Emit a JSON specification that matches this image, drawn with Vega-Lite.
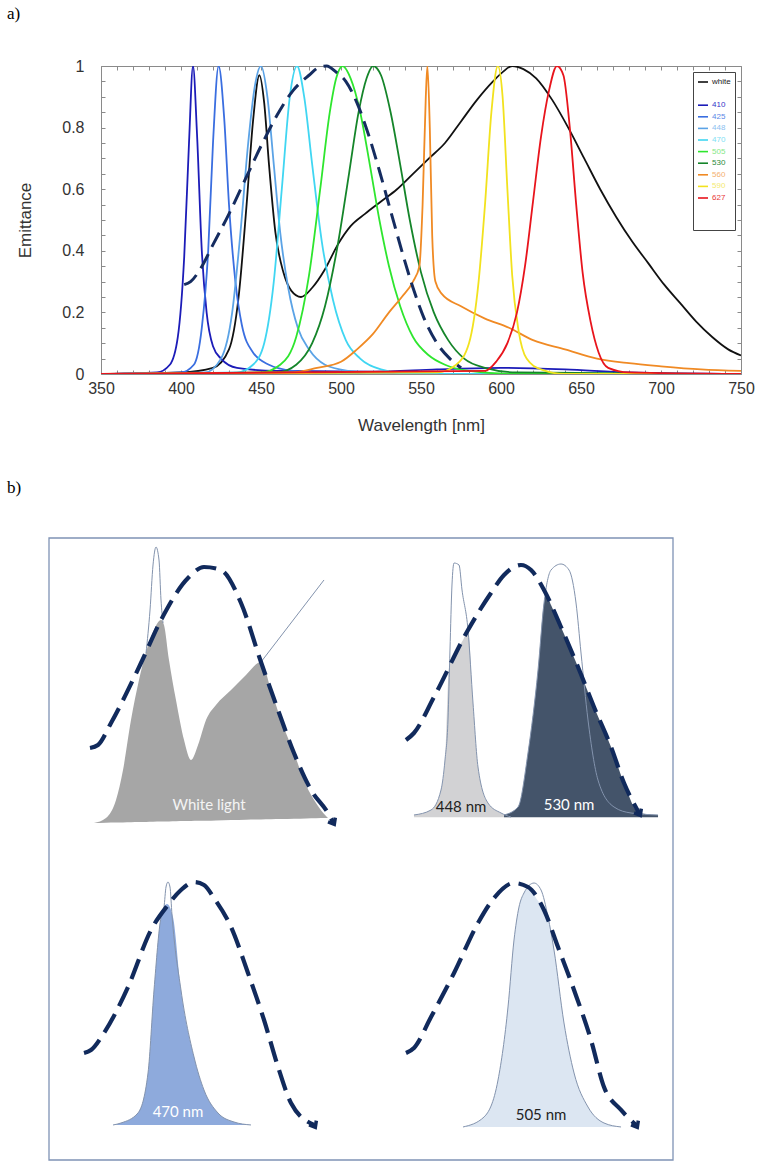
{
  "$schema": "https://vega.github.io/schema/vega-lite/v6.json",
  "background": "white",
  "padding": {"left": 6, "top": 4, "right": 10, "bottom": 4},
  "columns": 1,
  "spacing": 45,
  "config": {"font": "Liberation Sans", "view": {"stroke": null}},
  "resolve": {"scale": {"x": "independent", "y": "independent", "color": "independent"}},
  "datasets": {
    "spectra": [
      {"series":"white","wl":350,"em":0},{"series":"white","wl":400,"em":0.005},{"series":"white","wl":420,"em":0.02},{"series":"white","wl":430,"em":0.08},{"series":"white","wl":436,"em":0.25},{"series":"white","wl":441,"em":0.55},{"series":"white","wl":445,"em":0.82},{"series":"white","wl":449,"em":0.97},{"series":"white","wl":452,"em":0.88},{"series":"white","wl":455,"em":0.68},{"series":"white","wl":459,"em":0.46},{"series":"white","wl":464,"em":0.33},{"series":"white","wl":469,"em":0.27},{"series":"white","wl":475,"em":0.25},{"series":"white","wl":482,"em":0.28},{"series":"white","wl":490,"em":0.34},{"series":"white","wl":498,"em":0.42},{"series":"white","wl":506,"em":0.48},{"series":"white","wl":515,"em":0.52},{"series":"white","wl":525,"em":0.56},{"series":"white","wl":535,"em":0.6},{"series":"white","wl":545,"em":0.65},{"series":"white","wl":555,"em":0.7},{"series":"white","wl":565,"em":0.75},{"series":"white","wl":575,"em":0.82},{"series":"white","wl":585,"em":0.89},{"series":"white","wl":595,"em":0.95},{"series":"white","wl":601,"em":0.98},{"series":"white","wl":607,"em":1.0},{"series":"white","wl":614,"em":0.99},{"series":"white","wl":622,"em":0.96},{"series":"white","wl":632,"em":0.89},{"series":"white","wl":642,"em":0.8},{"series":"white","wl":652,"em":0.7},{"series":"white","wl":662,"em":0.6},{"series":"white","wl":672,"em":0.51},{"series":"white","wl":682,"em":0.43},{"series":"white","wl":692,"em":0.36},{"series":"white","wl":702,"em":0.29},{"series":"white","wl":712,"em":0.23},{"series":"white","wl":722,"em":0.17},{"series":"white","wl":732,"em":0.12},{"series":"white","wl":742,"em":0.08},{"series":"white","wl":750,"em":0.06},
      {"series":"410","wl":350,"em":0},{"series":"410","wl":385,"em":0.005},{"series":"410","wl":393,"em":0.03},{"series":"410","wl":398,"em":0.12},{"series":"410","wl":402,"em":0.38},{"series":"410","wl":405,"em":0.75},{"series":"410","wl":407.5,"em":1.0},{"series":"410","wl":410,"em":0.78},{"series":"410","wl":413,"em":0.4},{"series":"410","wl":416,"em":0.2},{"series":"410","wl":420,"em":0.09},{"series":"410","wl":425,"em":0.05},{"series":"410","wl":435,"em":0.02},{"series":"410","wl":460,"em":0.01},{"series":"410","wl":520,"em":0.008},{"series":"410","wl":560,"em":0.015},{"series":"410","wl":600,"em":0.02},{"series":"410","wl":640,"em":0.015},{"series":"410","wl":680,"em":0.005},{"series":"410","wl":750,"em":0},
      {"series":"425","wl":350,"em":0},{"series":"425","wl":400,"em":0.005},{"series":"425","wl":408,"em":0.03},{"series":"425","wl":413,"em":0.15},{"series":"425","wl":417,"em":0.4},{"series":"425","wl":420,"em":0.75},{"series":"425","wl":423.5,"em":1.0},{"series":"425","wl":427,"em":0.83},{"series":"425","wl":430,"em":0.55},{"series":"425","wl":434,"em":0.3},{"series":"425","wl":438,"em":0.16},{"series":"425","wl":445,"em":0.07},{"series":"425","wl":455,"em":0.03},{"series":"425","wl":470,"em":0.01},{"series":"425","wl":500,"em":0},{"series":"425","wl":750,"em":0},
      {"series":"448","wl":350,"em":0},{"series":"448","wl":415,"em":0.005},{"series":"448","wl":425,"em":0.05},{"series":"448","wl":432,"em":0.2},{"series":"448","wl":437,"em":0.45},{"series":"448","wl":442,"em":0.75},{"series":"448","wl":446,"em":0.93},{"series":"448","wl":450,"em":1.0},{"series":"448","wl":454,"em":0.9},{"series":"448","wl":458,"em":0.68},{"series":"448","wl":462,"em":0.46},{"series":"448","wl":467,"em":0.28},{"series":"448","wl":473,"em":0.15},{"series":"448","wl":480,"em":0.08},{"series":"448","wl":490,"em":0.03},{"series":"448","wl":505,"em":0.01},{"series":"448","wl":530,"em":0},{"series":"448","wl":750,"em":0},
      {"series":"470","wl":350,"em":0},{"series":"470","wl":435,"em":0.005},{"series":"470","wl":445,"em":0.03},{"series":"470","wl":452,"em":0.1},{"series":"470","wl":458,"em":0.3},{"series":"470","wl":463,"em":0.6},{"series":"470","wl":468,"em":0.9},{"series":"470","wl":472.5,"em":1.0},{"series":"470","wl":477,"em":0.9},{"series":"470","wl":482,"em":0.68},{"series":"470","wl":488,"em":0.43},{"series":"470","wl":495,"em":0.24},{"series":"470","wl":503,"em":0.11},{"series":"470","wl":512,"em":0.05},{"series":"470","wl":525,"em":0.015},{"series":"470","wl":545,"em":0},{"series":"470","wl":750,"em":0},
      {"series":"505","wl":350,"em":0},{"series":"505","wl":450,"em":0.005},{"series":"505","wl":462,"em":0.03},{"series":"505","wl":472,"em":0.12},{"series":"505","wl":480,"em":0.32},{"series":"505","wl":487,"em":0.6},{"series":"505","wl":493,"em":0.85},{"series":"505","wl":497,"em":0.96},{"series":"505","wl":501,"em":1.0},{"series":"505","wl":506,"em":0.96},{"series":"505","wl":512,"em":0.85},{"series":"505","wl":518,"em":0.68},{"series":"505","wl":524,"em":0.5},{"series":"505","wl":530,"em":0.35},{"series":"505","wl":537,"em":0.22},{"series":"505","wl":545,"em":0.12},{"series":"505","wl":555,"em":0.06},{"series":"505","wl":565,"em":0.03},{"series":"505","wl":580,"em":0.01},{"series":"505","wl":610,"em":0},{"series":"505","wl":750,"em":0},
      {"series":"530","wl":350,"em":0},{"series":"530","wl":460,"em":0.005},{"series":"530","wl":472,"em":0.03},{"series":"530","wl":482,"em":0.1},{"series":"530","wl":490,"em":0.22},{"series":"530","wl":498,"em":0.42},{"series":"530","wl":505,"em":0.65},{"series":"530","wl":511,"em":0.85},{"series":"530","wl":516,"em":0.96},{"series":"530","wl":520,"em":1.0},{"series":"530","wl":525,"em":0.97},{"series":"530","wl":531,"em":0.85},{"series":"530","wl":537,"em":0.68},{"series":"530","wl":543,"em":0.5},{"series":"530","wl":550,"em":0.33},{"series":"530","wl":558,"em":0.2},{"series":"530","wl":567,"em":0.11},{"series":"530","wl":577,"em":0.05},{"series":"530","wl":590,"em":0.02},{"series":"530","wl":610,"em":0.005},{"series":"530","wl":750,"em":0},
      {"series":"560","wl":350,"em":0},{"series":"560","wl":470,"em":0.005},{"series":"560","wl":485,"em":0.02},{"series":"560","wl":500,"em":0.04},{"series":"560","wl":510,"em":0.08},{"series":"560","wl":520,"em":0.13},{"series":"560","wl":530,"em":0.2},{"series":"560","wl":538,"em":0.25},{"series":"560","wl":545,"em":0.3},{"series":"560","wl":549,"em":0.35},{"series":"560","wl":551,"em":0.55},{"series":"560","wl":553,"em":0.9},{"series":"560","wl":554,"em":1.0},{"series":"560","wl":555.5,"em":0.8},{"series":"560","wl":557,"em":0.45},{"series":"560","wl":559,"em":0.3},{"series":"560","wl":563,"em":0.26},{"series":"560","wl":575,"em":0.22},{"series":"560","wl":590,"em":0.18},{"series":"560","wl":605,"em":0.15},{"series":"560","wl":620,"em":0.11},{"series":"560","wl":640,"em":0.08},{"series":"560","wl":660,"em":0.05},{"series":"560","wl":680,"em":0.035},{"series":"560","wl":700,"em":0.025},{"series":"560","wl":725,"em":0.015},{"series":"560","wl":750,"em":0.01},
      {"series":"590","wl":350,"em":0},{"series":"590","wl":560,"em":0.005},{"series":"590","wl":572,"em":0.03},{"series":"590","wl":580,"em":0.1},{"series":"590","wl":586,"em":0.3},{"series":"590","wl":590,"em":0.55},{"series":"590","wl":594,"em":0.85},{"series":"590","wl":598,"em":1.0},{"series":"590","wl":601,"em":0.9},{"series":"590","wl":604,"em":0.6},{"series":"590","wl":607,"em":0.32},{"series":"590","wl":611,"em":0.14},{"series":"590","wl":616,"em":0.05},{"series":"590","wl":625,"em":0.015},{"series":"590","wl":640,"em":0},{"series":"590","wl":750,"em":0},
      {"series":"627","wl":350,"em":0},{"series":"627","wl":590,"em":0.01},{"series":"627","wl":597,"em":0.04},{"series":"627","wl":604,"em":0.1},{"series":"627","wl":610,"em":0.2},{"series":"627","wl":615,"em":0.35},{"series":"627","wl":620,"em":0.56},{"series":"627","wl":625,"em":0.77},{"series":"627","wl":630,"em":0.92},{"series":"627","wl":635,"em":1.0},{"series":"627","wl":639,"em":0.97},{"series":"627","wl":643,"em":0.8},{"series":"627","wl":647,"em":0.55},{"series":"627","wl":651,"em":0.33},{"series":"627","wl":656,"em":0.17},{"series":"627","wl":661,"em":0.07},{"series":"627","wl":667,"em":0.02},{"series":"627","wl":680,"em":0.005},{"series":"627","wl":750,"em":0}
    ],
    "melan": [
      {"wl":402,"em":0.29},{"wl":406,"em":0.3},{"wl":412,"em":0.34},{"wl":420,"em":0.42},{"wl":430,"em":0.52},{"wl":440,"em":0.63},{"wl":450,"em":0.74},{"wl":460,"em":0.84},{"wl":470,"em":0.92},{"wl":480,"em":0.97},{"wl":486,"em":0.995},{"wl":491,"em":1.0},{"wl":497,"em":0.98},{"wl":503,"em":0.95},{"wl":510,"em":0.88},{"wl":517,"em":0.78},{"wl":524,"em":0.66},{"wl":531,"em":0.53},{"wl":538,"em":0.4},{"wl":545,"em":0.28},{"wl":552,"em":0.18},{"wl":560,"em":0.1},{"wl":568,"em":0.05},{"wl":575,"em":0.02}
    ],
    "bframe": [
      {"bx":0,"bx2":100,"by":0,"by2":100}
    ],
    "bdash": [
      {"panel":"TL","bx":6.57,"by":66.24},{"panel":"TL","bx":7.85,"by":66.72},{"panel":"TL","bx":9.94,"by":70.26},{"panel":"TL","bx":14.74,"by":79.9},{"panel":"TL","bx":17.95,"by":86.82},{"panel":"TL","bx":22.28,"by":93.57},{"panel":"TL","bx":24.84,"by":95.34},{"panel":"TL","bx":27.56,"by":94.85},{"panel":"TL","bx":30.77,"by":89.55},{"panel":"TL","bx":33.97,"by":80.06},{"panel":"TL","bx":36.7,"by":72.35},{"panel":"TL","bx":39.26,"by":65.43},{"panel":"TL","bx":41.99,"by":59.48},{"panel":"TL","bx":44.71,"by":55.79},{"panel":"TL","bx":45.51,"by":54.34},
      {"panel":"TR","bx":57.21,"by":67.52},{"panel":"TR","bx":58.49,"by":68.65},{"panel":"TR","bx":61.7,"by":74.44},{"panel":"TR","bx":67.15,"by":85.21},{"panel":"TR","bx":70.83,"by":91.16},{"panel":"TR","bx":72.92,"by":94.05},{"panel":"TR","bx":75.64,"by":95.66},{"panel":"TR","bx":77.25,"by":94.85},{"panel":"TR","bx":79.33,"by":91.64},{"panel":"TR","bx":82.05,"by":85.69},{"panel":"TR","bx":84.78,"by":79.26},{"panel":"TR","bx":87.34,"by":72.83},{"panel":"TR","bx":90.07,"by":66.4},{"panel":"TR","bx":92.15,"by":60.61},{"panel":"TR","bx":94.55,"by":55.79},
      {"panel":"BL","bx":5.61,"by":17.2},{"panel":"BL","bx":6.73,"by":17.68},{"panel":"BL","bx":8.81,"by":20.42},{"panel":"BL","bx":12.66,"by":27.81},{"panel":"BL","bx":16.35,"by":36.98},{"panel":"BL","bx":19.07,"by":41.0},{"panel":"BL","bx":21.15,"by":43.41},{"panel":"BL","bx":23.24,"by":44.69},{"panel":"BL","bx":24.84,"by":44.21},{"panel":"BL","bx":26.44,"by":42.12},{"panel":"BL","bx":29.17,"by":37.46},{"panel":"BL","bx":31.89,"by":30.06},{"panel":"BL","bx":34.46,"by":22.51},{"panel":"BL","bx":36.86,"by":14.47},{"panel":"BL","bx":38.78,"by":9.16},{"panel":"BL","bx":42.47,"by":5.63},
      {"panel":"BR","bx":57.21,"by":17.2},{"panel":"BR","bx":58.49,"by":18.01},{"panel":"BR","bx":61.22,"by":22.99},{"panel":"BR","bx":64.91,"by":30.06},{"panel":"BR","bx":68.75,"by":38.1},{"panel":"BR","bx":71.32,"by":42.12},{"panel":"BR","bx":74.52,"by":44.53},{"panel":"BR","bx":76.76,"by":43.89},{"panel":"BR","bx":79.33,"by":40.19},{"panel":"BR","bx":81.57,"by":34.24},{"panel":"BR","bx":84.14,"by":27.33},{"panel":"BR","bx":86.86,"by":19.29},{"panel":"BR","bx":88.94,"by":11.74},{"panel":"BR","bx":91.67,"by":8.04},{"panel":"BR","bx":94.07,"by":5.63}
    ],
    "bfill": [
      {"panel":"white","bx":7.21,"by":54.18,"base":54.18},{"panel":"white","bx":9.13,"by":54.98,"base":54.22},{"panel":"white","bx":10.74,"by":57.88,"base":54.26},{"panel":"white","bx":11.86,"by":62.7,"base":54.28},{"panel":"white","bx":13.14,"by":70.74,"base":54.31},{"panel":"white","bx":14.42,"by":77.17,"base":54.33},{"panel":"white","bx":15.55,"by":81.67,"base":54.36},{"panel":"white","bx":16.67,"by":84.89,"base":54.38},{"panel":"white","bx":17.95,"by":86.82,"base":54.41},{"panel":"white","bx":18.43,"by":86.01,"base":54.42},{"panel":"white","bx":19.23,"by":80.39,"base":54.44},{"panel":"white","bx":20.35,"by":73.95,"base":54.46},{"panel":"white","bx":21.64,"by":67.52,"base":54.49},{"panel":"white","bx":22.76,"by":64.31,"base":54.51},{"panel":"white","bx":23.88,"by":66.72,"base":54.54},{"panel":"white","bx":25.16,"by":70.74,"base":54.56},{"panel":"white","bx":26.76,"by":73.15,"base":54.6},{"panel":"white","bx":29.17,"by":75.56,"base":54.65},{"panel":"white","bx":31.57,"by":77.97,"base":54.7},{"panel":"white","bx":33.97,"by":80.06,"base":54.75},{"panel":"white","bx":35.58,"by":75.56,"base":54.79},{"panel":"white","bx":37.18,"by":70.74,"base":54.82},{"panel":"white","bx":39.26,"by":65.43,"base":54.86},{"panel":"white","bx":41.19,"by":60.29,"base":54.9},{"panel":"white","bx":42.79,"by":57.39,"base":54.94},{"panel":"white","bx":44.39,"by":55.3,"base":54.97},{"panel":"white","bx":44.71,"by":54.98,"base":54.98},
      {"panel":"448","bx":58.49,"by":55.47,"base":55.1},{"panel":"448","bx":61.22,"by":56.27,"base":55.1},{"panel":"448","bx":62.82,"by":59.48,"base":55.1},{"panel":"448","bx":63.46,"by":64.31,"base":55.1},{"panel":"448","bx":64.1,"by":79.1,"base":55.1},{"panel":"448","bx":65.22,"by":81.67,"base":55.1},{"panel":"448","bx":66.35,"by":83.6,"base":55.1},{"panel":"448","bx":67.15,"by":85.21,"base":55.1},{"panel":"448","bx":67.95,"by":73.47,"base":55.1},{"panel":"448","bx":68.75,"by":63.18,"base":55.1},{"panel":"448","bx":70.35,"by":57.39,"base":55.1},{"panel":"448","bx":72.44,"by":55.79,"base":55.1},{"panel":"448","bx":74.04,"by":55.14,"base":55.1},
      {"panel":"530","bx":72.92,"by":55.47,"base":55.1},{"panel":"530","bx":75.16,"by":56.75,"base":55.1},{"panel":"530","bx":76.76,"by":65.43,"base":55.1},{"panel":"530","bx":78.37,"by":78.78,"base":55.1},{"panel":"530","bx":79.33,"by":89.55,"base":55.1},{"panel":"530","bx":79.67,"by":90.99,"base":55.1},{"panel":"530","bx":80.45,"by":89.23,"base":55.1},{"panel":"530","bx":82.05,"by":85.69,"base":55.1},{"panel":"530","bx":84.78,"by":79.26,"base":55.1},{"panel":"530","bx":87.34,"by":72.83,"base":55.1},{"panel":"530","bx":90.07,"by":66.4,"base":55.1},{"panel":"530","bx":92.15,"by":60.61,"base":55.1},{"panel":"530","bx":94.55,"by":55.79,"base":55.1},{"panel":"530","bx":97.6,"by":55.47,"base":55.1},
      {"panel":"470","bx":10.26,"by":5.63,"base":5.63},{"panel":"470","bx":11.54,"by":5.95,"base":5.63},{"panel":"470","bx":14.26,"by":7.56,"base":5.63},{"panel":"470","bx":15.87,"by":13.99,"base":5.63},{"panel":"470","bx":16.83,"by":27.33,"base":5.63},{"panel":"470","bx":17.95,"by":39.07,"base":5.63},{"panel":"470","bx":18.91,"by":41.16,"base":5.63},{"panel":"470","bx":19.87,"by":39.07,"base":5.63},{"panel":"470","bx":21.15,"by":27.33,"base":5.63},{"panel":"470","bx":23.24,"by":16.56,"base":5.63},{"panel":"470","bx":24.84,"by":11.25,"base":5.63},{"panel":"470","bx":27.08,"by":7.56,"base":5.63},{"panel":"470","bx":29.65,"by":6.11,"base":5.63},{"panel":"470","bx":32.37,"by":5.63,"base":5.63},
      {"panel":"505","bx":66.35,"by":5.31,"base":5.31},{"panel":"505","bx":69.71,"by":6.91,"base":5.31},{"panel":"505","bx":71.96,"by":12.86,"base":5.31},{"panel":"505","bx":73.56,"by":24.6,"base":5.31},{"panel":"505","bx":74.52,"by":35.37,"base":5.31},{"panel":"505","bx":75.32,"by":40.67,"base":5.31},{"panel":"505","bx":76.12,"by":42.93,"base":5.31},{"panel":"505","bx":76.92,"by":43.73,"base":5.31},{"panel":"505","bx":78.05,"by":42.12,"base":5.31},{"panel":"505","bx":79.33,"by":40.19,"base":5.31},{"panel":"505","bx":80.29,"by":37.62,"base":5.31},{"panel":"505","bx":80.93,"by":33.76,"base":5.31},{"panel":"505","bx":82.53,"by":22.03,"base":5.31},{"panel":"505","bx":84.14,"by":13.99,"base":5.31},{"panel":"505","bx":86.38,"by":8.52,"base":5.31},{"panel":"505","bx":88.94,"by":5.95,"base":5.31},{"panel":"505","bx":91.67,"by":5.31,"base":5.31}
    ],
    "bout": [
      {"part":"tlspike","bx":15.55,"by":81.51},{"part":"tlspike","bx":16.19,"by":88.42},{"part":"tlspike","bx":16.67,"by":95.66},{"part":"tlspike","bx":17.15,"by":98.55},{"part":"tlspike","bx":17.63,"by":96.46},{"part":"tlspike","bx":17.95,"by":90.03},{"part":"tlspike","bx":18.27,"by":86.33},
      {"part":"tldiag","bx":33.97,"by":80.06},{"part":"tldiag","bx":44.07,"by":93.25},
      {"part":"448","bx":58.49,"by":55.47},{"part":"448","bx":61.22,"by":56.27},{"part":"448","bx":62.82,"by":59.48},{"part":"448","bx":63.46,"by":64.31},{"part":"448","bx":63.94,"by":70.74},{"part":"448","bx":64.26,"by":81.99},{"part":"448","bx":64.58,"by":92.44},{"part":"448","bx":64.91,"by":95.98},{"part":"448","bx":65.71,"by":95.66},{"part":"448","bx":66.19,"by":91.64},{"part":"448","bx":67.15,"by":85.21},{"part":"448","bx":67.95,"by":73.47},{"part":"448","bx":68.75,"by":63.18},{"part":"448","bx":70.35,"by":57.39},{"part":"448","bx":72.44,"by":55.79},{"part":"448","bx":74.04,"by":55.14},
      {"part":"530","bx":72.92,"by":55.47},{"part":"530","bx":75.16,"by":56.75},{"part":"530","bx":76.76,"by":65.43},{"part":"530","bx":78.37,"by":78.78},{"part":"530","bx":79.33,"by":89.55},{"part":"530","bx":80.45,"by":94.85},{"part":"530","bx":82.05,"by":95.82},{"part":"530","bx":83.34,"by":94.85},{"part":"530","bx":84.46,"by":89.55},{"part":"530","bx":85.26,"by":81.51},{"part":"530","bx":86.38,"by":70.74},{"part":"530","bx":87.98,"by":61.09},{"part":"530","bx":90.55,"by":56.75},{"part":"530","bx":93.27,"by":55.79},{"part":"530","bx":97.6,"by":55.47},
      {"part":"470","bx":10.26,"by":5.63},{"part":"470","bx":11.54,"by":5.95},{"part":"470","bx":14.26,"by":7.56},{"part":"470","bx":15.87,"by":13.99},{"part":"470","bx":16.83,"by":27.33},{"part":"470","bx":17.95,"by":39.07},{"part":"470","bx":18.43,"by":40.67},{"part":"470","bx":18.75,"by":43.89},{"part":"470","bx":19.07,"by":44.69},{"part":"470","bx":19.39,"by":43.89},{"part":"470","bx":19.71,"by":39.39},{"part":"470","bx":21.15,"by":27.33},{"part":"470","bx":23.24,"by":16.56},{"part":"470","bx":24.84,"by":11.25},{"part":"470","bx":27.08,"by":7.56},{"part":"470","bx":29.65,"by":6.11},{"part":"470","bx":32.37,"by":5.63},
      {"part":"505","bx":66.35,"by":5.31},{"part":"505","bx":69.71,"by":6.91},{"part":"505","bx":71.96,"by":12.86},{"part":"505","bx":73.56,"by":24.6},{"part":"505","bx":74.52,"by":35.37},{"part":"505","bx":75.32,"by":40.67},{"part":"505","bx":76.12,"by":42.93},{"part":"505","bx":77.73,"by":44.53},{"part":"505","bx":78.85,"by":43.41},{"part":"505","bx":79.97,"by":39.07},{"part":"505","bx":80.93,"by":33.76},{"part":"505","bx":82.53,"by":22.03},{"part":"505","bx":84.14,"by":13.99},{"part":"505","bx":86.38,"by":8.52},{"part":"505","bx":88.94,"by":5.95},{"part":"505","bx":91.67,"by":5.31}
    ],
    "barrow": [
      {"panel":"TL","bx":45.51,"by":54.34},{"panel":"TR","bx":94.55,"by":55.79},{"panel":"BL","bx":42.47,"by":5.63},{"panel":"BR","bx":94.07,"by":5.63}
    ],
    "blabel": [
      {"label":"White light","bx":25.64,"by":57.07},{"label":"448 nm","bx":66.03,"by":56.75},{"label":"530 nm","bx":83.34,"by":57.07},{"label":"470 nm","bx":20.67,"by":7.72},{"label":"505 nm","bx":78.85,"by":7.23}
    ]
  },
  "concat": [
    {
      "width": 640,
      "height": 308,
      "title": {"text": "a)", "anchor": "start", "frame": "group", "font": "Liberation Serif", "fontSize": 17, "fontWeight": "normal", "color": "#000000", "dx": -94, "offset": 35},
      "view": {"stroke": "#8a8a8a", "strokeWidth": 1},
      "resolve": {"axis": {"x": "independent", "y": "independent"}},
      "layer": [
        {
          "data": {"name": "spectra"},
          "mark": {"type": "line", "strokeWidth": 1.8, "interpolate": "monotone", "clip": true},
          "encoding": {
            "x": {"field": "wl", "type": "quantitative",
              "scale": {"domain": [350, 750], "nice": false, "zero": false},
              "axis": {"title": "Wavelength [nm]", "values": [350,360,370,380,390,400,410,420,430,440,450,460,470,480,490,500,510,520,530,540,550,560,570,580,590,600,610,620,630,640,650,660,670,680,690,700,710,720,730,740,750],
                "labelExpr": "datum.value % 50 === 0 ? datum.label : ''", "labelOverlap": false, "labelFlush": false,
                "tickSize": -4, "tickColor": "#8a8a8a", "domain": false, "grid": false,
                "labelFontSize": 16, "labelColor": "#333333", "labelPadding": 10,
                "titleFontSize": 17, "titleFontWeight": "normal", "titleColor": "#333333", "titlePadding": 21}},
            "y": {"field": "em", "type": "quantitative",
              "scale": {"domain": [0, 1], "nice": false},
              "axis": {"title": "Emittance", "values": [0,0.05,0.1,0.15,0.2,0.25,0.3,0.35,0.4,0.45,0.5,0.55,0.6,0.65,0.7,0.75,0.8,0.85,0.9,0.95,1],
                "labelExpr": "round(datum.value*20) % 4 === 0 ? format(datum.value, '~g') : ''", "labelOverlap": false, "labelFlush": false,
                "tickSize": -4, "tickColor": "#8a8a8a", "domain": false, "grid": false,
                "labelFontSize": 16, "labelColor": "#333333", "labelPadding": 21,
                "titleFontSize": 17, "titleFontWeight": "normal", "titleColor": "#333333", "titlePadding": 27}},
            "color": {"field": "series", "type": "nominal",
              "scale": {"domain": ["white", " ", "410", "425", "448", "470", "505", "530", "560", "590", "627", "  ", "   "],
                        "range": ["#111111", "transparent", "#1c1cb8", "#3a6ee0", "#5ba3e6", "#40d6f2", "#2ee62e", "#15852a", "#f08a24", "#f2e21e", "#e8141c", "transparent", "transparent"]},
              "legend": {"title": null, "orient": "none", "legendX": 592, "legendY": 6,
                "symbolType": "stroke", "symbolSize": 100, "symbolStrokeWidth": 1.6,
                "labelFontSize": 8, "labelFont": "Liberation Sans", "labelOffset": 3,
                "rowPadding": 1.6, "padding": 4, "strokeColor": "#444444", "fillColor": "#ffffff",
                "encode": {"labels": {"update": {"fill": {"signal": "datum.label === '410' ? '#3434c8' : datum.label === '425' ? '#5a86e6' : datum.label === '448' ? '#8cc0f0' : datum.label === '470' ? '#7ee0f4' : datum.label === '505' ? '#86e886' : datum.label === '530' ? '#2a8a3a' : datum.label === '560' ? '#f4b070' : datum.label === '590' ? '#f4ea70' : datum.label === '627' ? '#e83838' : '#222222'"}}}}}}
          }
        },
        {
          "data": {"name": "melan"},
          "mark": {"type": "line", "color": "#152c60", "strokeWidth": 3, "strokeDash": [16, 8], "interpolate": "monotone"},
          "encoding": {
            "x": {"field": "wl", "type": "quantitative", "axis": {"orient": "top", "title": null, "labels": false, "values": [350,360,370,380,390,400,410,420,430,440,450,460,470,480,490,500,510,520,530,540,550,560,570,580,590,600,610,620,630,640,650,660,670,680,690,700,710,720,730,740,750], "tickSize": -4, "tickColor": "#8a8a8a", "domain": false, "grid": false}},
            "y": {"field": "em", "type": "quantitative", "axis": {"orient": "right", "title": null, "labels": false, "values": [0,0.05,0.1,0.15,0.2,0.25,0.3,0.35,0.4,0.45,0.5,0.55,0.6,0.65,0.7,0.75,0.8,0.85,0.9,0.95,1], "tickSize": -4, "tickColor": "#8a8a8a", "domain": false, "grid": false}}
          }
        }
      ]
    },
    {
      "width": 572,
      "height": 622,
      "title": {"text": "b)", "anchor": "start", "frame": "group", "font": "Liberation Serif", "fontSize": 17, "fontWeight": "normal", "color": "#000000", "dx": -94, "offset": 40},
      "resolve": {"scale": {"color": "independent"}},
      "layer": [
        {
          "data": {"name": "bframe"},
          "mark": {"type": "rect", "filled": false, "stroke": "#7f93b5", "strokeWidth": 1.3},
          "encoding": {
            "x": {"field": "bx", "type": "quantitative", "scale": {"domain": [0, 100], "range": [-52, 572], "nice": false, "zero": false}, "axis": null},
            "x2": {"field": "bx2"},
            "y": {"field": "by", "type": "quantitative", "scale": {"domain": [0, 100], "nice": false, "zero": false}, "axis": null},
            "y2": {"field": "by2"}
          }
        },
        {
          "data": {"name": "bfill"},
          "mark": {"type": "area", "interpolate": "monotone", "opacity": 1},
          "encoding": {
            "x": {"field": "bx", "type": "quantitative"},
            "y": {"field": "by", "type": "quantitative"},
            "y2": {"field": "base"},
            "color": {"field": "panel", "type": "nominal", "scale": {"domain": ["white", "448", "530", "470", "505"], "range": ["#a6a6a6", "#d2d2d4", "#44546a", "#8eaadc", "#dce6f2"]}, "legend": null}
          }
        },
        {
          "data": {"name": "bout"},
          "mark": {"type": "line", "interpolate": "monotone", "color": "#8393ad", "strokeWidth": 1},
          "encoding": {
            "x": {"field": "bx", "type": "quantitative"},
            "y": {"field": "by", "type": "quantitative"},
            "detail": {"field": "part", "type": "nominal"}
          }
        },
        {
          "data": {"name": "bdash"},
          "mark": {"type": "line", "interpolate": "monotone", "color": "#112a5c", "strokeWidth": 4.2, "strokeDash": [21, 9]},
          "encoding": {
            "x": {"field": "bx", "type": "quantitative"},
            "y": {"field": "by", "type": "quantitative"},
            "detail": {"field": "panel", "type": "nominal"}
          }
        },
        {
          "data": {"name": "barrow"},
          "mark": {"type": "point", "shape": "M-0.8,-0.5L0,0.5L0.8,-0.5", "filled": false, "stroke": "#112a5c", "strokeWidth": 3.5, "size": 110, "angle": 330, "opacity": 1},
          "encoding": {
            "x": {"field": "bx", "type": "quantitative"},
            "y": {"field": "by", "type": "quantitative"}
          }
        },
        {
          "data": {"name": "blabel"},
          "mark": {"type": "text", "font": "Lato", "fontSize": 15, "align": "center", "baseline": "middle"},
          "encoding": {
            "x": {"field": "bx", "type": "quantitative"},
            "y": {"field": "by", "type": "quantitative"},
            "text": {"field": "label", "type": "nominal"},
            "color": {"field": "label", "type": "nominal", "scale": {"domain": ["White light", "448 nm", "530 nm", "470 nm", "505 nm"], "range": ["#f4f4f4", "#222222", "#ffffff", "#ffffff", "#222222"]}, "legend": null}
          }
        }
      ]
    }
  ]
}
